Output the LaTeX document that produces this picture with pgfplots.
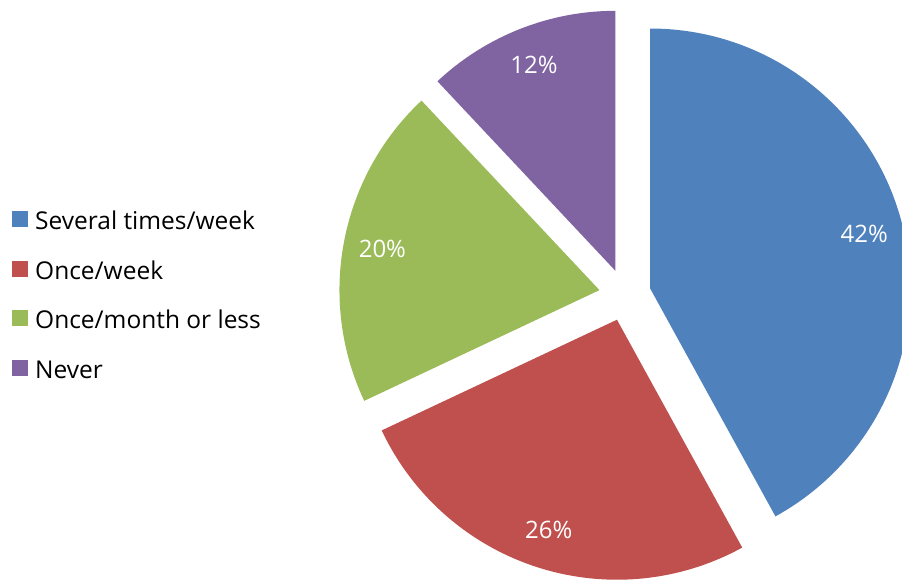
\documentclass[border=0pt]{standalone}
\usepackage{pgfplots}
\pgfplotsset{compat=1.18}
\usepackage{pgfplotstable}
\usepackage{fontspec}
\setmainfont{Open Sans}

\definecolor{cA}{HTML}{4F81BD}
\definecolor{cB}{HTML}{C0504D}
\definecolor{cC}{HTML}{9BBB59}
\definecolor{cD}{HTML}{8064A2}

% share of answers, in percent
\pgfplotstableread{
share col
42    cA
26    cB
20    cC
12    cD
}\piedata

\begin{document}
\begin{tikzpicture}
\begin{axis}[
    name=ax,
    x=1pt, y=1pt,
    xmin=0, xmax=902, ymin=0, ymax=579,
    hide axis, clip=false,
    legend style={
        at={(axis cs:9,370)}, anchor=north west,
        draw=none, fill=none,
        font=\fontsize{24.5}{28}\selectfont,
        nodes={inner sep=0pt, text height=17.5pt, text depth=0pt},
        row sep=31pt,
        /tikz/every odd column/.style={column sep=7pt},
    },
    legend cell align=left,
    legend image code/.code={\fill[#1] (0pt,-6.25pt) rectangle (16pt,9.75pt);},
]
\pgfplotsextra{%
  \def\cum{0}%
  \pgfplotsforeachungrouped \i in {0,...,3}{%
    \pgfplotstablegetelem{\i}{share}\of\piedata
    \let\v=\pgfplotsretval
    \pgfplotstablegetelem{\i}{col}\of\piedata
    \let\col=\pgfplotsretval
    \pgfmathsetmacro\aA{90-3.6*\cum}%
    \pgfmathsetmacro\aB{\aA-3.6*\v}%
    \pgfmathsetmacro\aM{(\aA+\aB)/2}%
    \pgfmathsetmacro\vx{625+26*cos(\aM)}%
    \pgfmathsetmacro\vy{284+26*sin(\aM)}%
    \pgfmathsetmacro\lx{\vx+221*cos(\aM)}%
    \pgfmathsetmacro\ly{\vy+221*sin(\aM)}%
    \fill[fill=\col] (axis cs:\vx,\vy) -- ++(\aA:260pt)
        arc[start angle=\aA, end angle=\aB, radius=260pt] -- cycle;
    \node[text=white, font=\fontsize{24}{28}\selectfont]
        at (axis cs:\lx,\ly) {\v\%};
    \pgfmathsetmacro\cum{\cum+\v}%
  }%
}
\addlegendimage{fill=cA,draw=none}
\addlegendentry{Several times/week}
\addlegendimage{fill=cB,draw=none}
\addlegendentry{Once/week}
\addlegendimage{fill=cC,draw=none}
\addlegendentry{Once/month or less}
\addlegendimage{fill=cD,draw=none}
\addlegendentry{Never}
\end{axis}
\pgfresetboundingbox
\path[use as bounding box] (ax.south west) rectangle (ax.north east);
\end{tikzpicture}
\end{document}
